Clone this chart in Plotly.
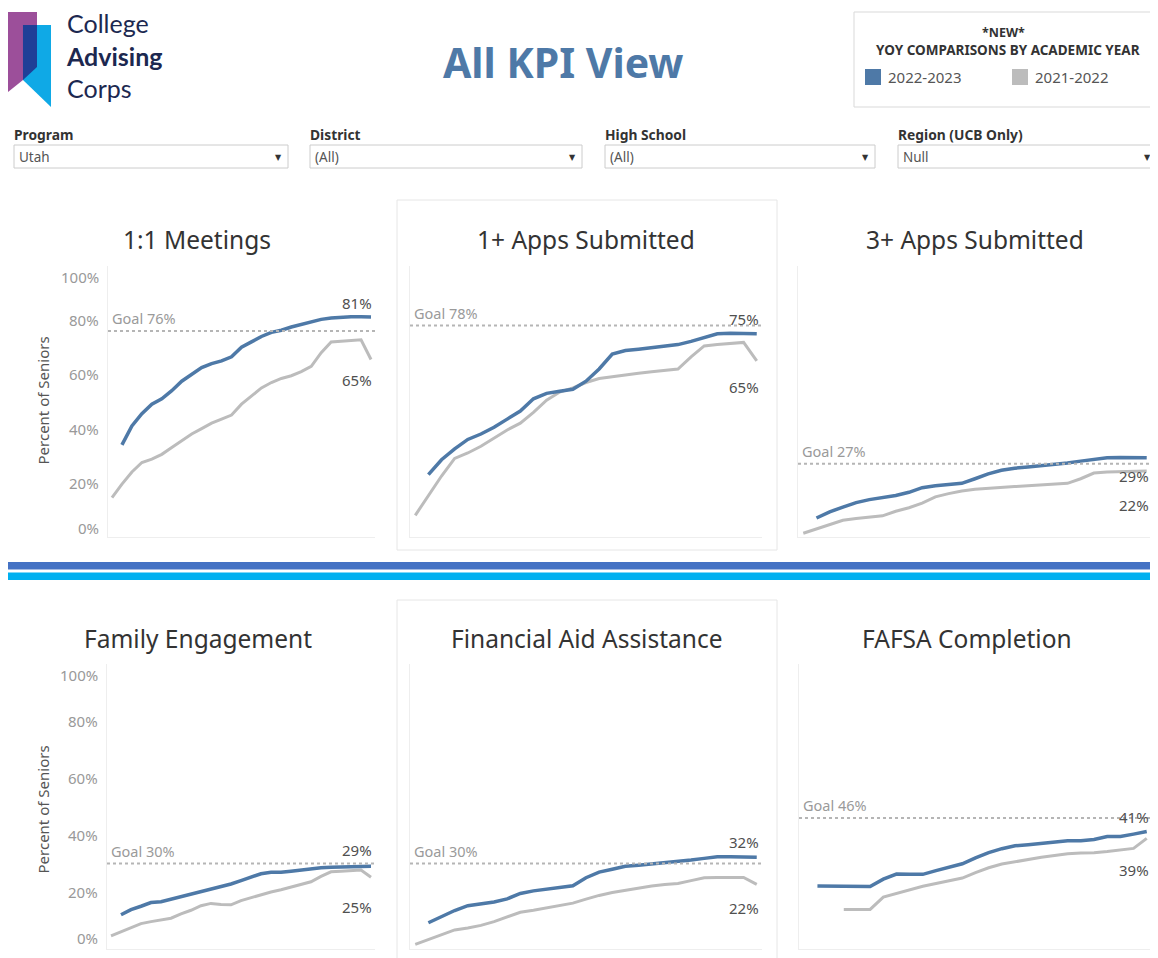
import plotly.graph_objects as go

# page is rendered with an 8px body margin; reference pixel coords are shifted by OFF
OFF = 8
W, H = 1158 - OFF, 958 - OFF

# ---------------- data ----------------
weeks = list(range(27))

titles = ["1:1 Meetings", "1+ Apps Submitted", "3+ Apps Submitted",
          "Family Engagement", "Financial Aid Assistance", "FAFSA Completion"]
goals = [76, 78, 27, 30, 30, 46]
end_label_2223 = ["81%", "75%", "29%", "29%", "32%", "41%"]
end_label_2122 = ["65%", "65%", "22%", "25%", "22%", "39%"]
y_ticks = [0, 20, 40, 60, 80, 100]
y_tick_text = ["0%", "20%", "40%", "60%", "80%", "100%"]

meet_2223 = [None, 34, 41, 45.5, 49, 51, 54, 57.5, 60, 62.5, 64, 65, 66.5, 70, 72, 74,
             75.5, 76.3, 77.5, 78.5, 79.6, 80.3, 80.8, 81.2, 81.3, 81.3, 81.2]
meet_2122 = [14.5, 19.5, 24, 27.5, 28.7, 30.5, 33, 35.5, 38, 40, 42, 43.5, 45, 49, 52, 55,
             57, 58.5, 59.5, 61, 63, 68, 72, 72.3, 72.5, 72.8, 65.5]

app1_2223 = [None, 23, 28.5, 32.5, 36, 38, 40.5, 43.5, 46.5, 51, 53, 53.8, 54.5, 57.5, 62, 67.5,
             68.8, 69.3, 69.8, 70.3, 71, 72.2, 73.5, 75, 75.2, 75.2, 75]
app1_2122 = [8, 15.5, 22.5, 29, 31, 33.5, 36.5, 39.5, 42, 46, 50.5, 53.5, 55, 57, 58.5, 59.2,
             59.8, 60.4, 61, 61.5, 62, 66.5, 70.5, 71, 71.5, 71.8, 65]

app3_2223 = [None, 7, 9.3, 11, 12.7, 13.8, 14.6, 15.3, 16.5, 18.2, 18.9, 19.3, 19.8, 21.5, 23.3,
             24.6, 25.4, 25.8, 26.2, 26.7, 27.3, 28, 28.6, 29.2, 29.3, 29.3, 29.2]
app3_2122 = [1.4, 3, 4.8, 6.2, 6.8, 7.2, 7.8, 9.5, 10.8, 12.5, 14.8, 16, 17, 17.6, 18, 18.4,
             18.6, 18.9, 19.2, 19.5, 19.8, 21.5, 23.6, 24, 24.2, 24.3, 24.4]

fam_2223 = [None, 12, 13.8, 15, 16.3, 16.6, 17.5, 18.5, 19.3, 20, 21, 21.8, 22.8, 24, 25.3,
            26.4, 26.9, 26.9, 27.3, 27.8, 28.2, 28.5, 28.7, 28.8, 28.9, 29, 29]
fam_2122 = [4.6, 6, 7.6, 8.9, 9.6, 10.1, 10.8, 12.3, 13.6, 15.2, 16, 15.6, 15.5, 17, 18, 19.1,
            20, 20.8, 21.7, 22.6, 23.6, 25.5, 27.1, 27.3, 27.5, 27.7, 25.2]

aid_2223 = [None, 9.2, 11.5, 13.5, 15.2, 15.7, 16.5, 17.6, 19.5, 20.4, 21, 21.6, 22.2, 25, 27,
            28, 29, 29.4, 29.8, 30.2, 30.7, 31.2, 31.8, 32.4, 32.4, 32.3, 32.2]
aid_2122 = [1.6, 3.3, 5.1, 6.7, 7.4, 8.3, 9.6, 11.3, 12.9, 13.6, 14.4, 15.2, 16.1, 17.5, 18.8,
            19.8, 20.6, 21.4, 22.1, 22.6, 23, 24, 25, 25.1, 25.2, 25.1, 22.7]

fafsa_2223 = [None, 22.1, 22.1, 22, 22, 21.9, 24.5, 26.3, 26.2, 26.2, 27.5, 28.7, 29.9, 32, 33.8,
              35.2, 36.2, 36.6, 37, 37.6, 38, 38, 38.4, 39.5, 39.5, 40.3, 41.2]
fafsa_2122 = [None, None, None, 13.9, 13.9, 13.9, 18.2, 19.5, 20.8, 22, 23, 24, 24.9, 26.8, 28.5,
              29.8, 30.6, 31.5, 32.2, 32.8, 33.4, 33.7, 33.8, 34.2, 34.7, 35.3, 38.8]

series_2223 = [meet_2223, app1_2223, app3_2223, fam_2223, aid_2223, fafsa_2223]
series_2122 = [meet_2122, app1_2122, app3_2122, fam_2122, aid_2122, fafsa_2122]

filter_labels = ["Program", "District", "High School", "Region (UCB Only)"]
filter_values = ["Utah", "(All)", "(All)", "Null"]
legend_years = ["2022-2023", "2021-2022"]
logo_lines = ["College", "<b>Advising</b>", "Corps"]

# ---------------- styles / layout ----------------
BLUE = "#4e79a7"
GRAY = "#bcbcbc"
FONT = "Noto Sans"

plot_boxes = [(108, 375, 266, 537), (410, 762, 266, 537), (798, 1152, 266, 537),
              (107, 375, 664, 949), (410, 762, 664, 949), (799, 1152, 664, 949)]
title_pos = [(197, 239), (586, 239), (975, 239), (198, 638), (586, 638), (967, 638)]
blue_shift = [14, 15, -18, 16, 15, 15]
gray_shift = [-20, -26, -34, -30, -24, -32]
show_y = [True, False, False, True, False, False]


def fx(px):
    return (px - OFF) / W


def fy(py):
    return 1 - (py - OFF) / H


fig = go.Figure()
layout = dict(width=W, height=H, margin=dict(l=0, r=0, t=0, b=0),
              paper_bgcolor="white", plot_bgcolor="white", showlegend=False,
              font=dict(family=FONT, color="#555555"))
annotations = []
shapes = []

for i in range(6):
    n = "" if i == 0 else str(i + 1)
    x0, x1, y0, y1 = plot_boxes[i]
    layout["xaxis" + n] = dict(domain=[fx(x0), fx(x1)], range=[-0.4, 26.4],
                               anchor="y" + n, showgrid=False, zeroline=False,
                               showticklabels=False, ticks="", showline=True,
                               linecolor="#eeeeee", linewidth=1, fixedrange=True)
    layout["yaxis" + n] = dict(domain=[fy(y1), fy(y0)], range=[0, 100],
                               anchor="x" + n, showgrid=False, zeroline=False,
                               showticklabels=False, ticks="", showline=True,
                               linecolor="#eeeeee", linewidth=1, fixedrange=True)
    xr, yr = "x" + n, "y" + n
    # goal line
    shapes.append(dict(type="line", xref=xr + " domain", yref=yr, x0=0, x1=1,
                       y0=goals[i], y1=goals[i],
                       line=dict(color="#b5b5b5", width=2, dash="dot")))
    annotations.append(dict(xref=xr + " domain", yref=yr, x=0, y=goals[i],
                            xanchor="left", yanchor="middle", xshift=2, yshift=13,
                            text=f"Goal {goals[i]}%", showarrow=False,
                            font=dict(size=14.5, color="#9a9a9a", family=FONT)))
    # series
    fig.add_trace(go.Scatter(x=weeks, y=series_2122[i], mode="lines", xaxis=xr, yaxis=yr,
                             line=dict(color=GRAY, width=3), hoverinfo="skip",
                             name=legend_years[1]))
    fig.add_trace(go.Scatter(x=weeks, y=series_2223[i], mode="lines", xaxis=xr, yaxis=yr,
                             line=dict(color=BLUE, width=3.5), hoverinfo="skip",
                             name=legend_years[0]))
    # end labels
    annotations.append(dict(xref=xr + " domain", yref=yr, x=1, y=series_2223[i][-1],
                            xanchor="right", yanchor="middle", xshift=-1,
                            yshift=blue_shift[i], text=end_label_2223[i], showarrow=False,
                            font=dict(size=15, color="#505050", family=FONT)))
    annotations.append(dict(xref=xr + " domain", yref=yr, x=1, y=series_2122[i][-1],
                            xanchor="right", yanchor="middle", xshift=-1,
                            yshift=gray_shift[i], text=end_label_2122[i], showarrow=False,
                            font=dict(size=15, color="#505050", family=FONT)))
    # title
    tx, ty = title_pos[i]
    annotations.append(dict(xref="paper", yref="paper", x=fx(tx), y=fy(ty),
                            xanchor="center", yanchor="middle", text=titles[i],
                            showarrow=False, font=dict(size=24.5, color="#333333", family=FONT)))
    # y tick labels
    if show_y[i]:
        for v, t in zip(y_ticks, y_tick_text):
            shift = 0
            if v == 0:
                shift = 9 if i == 0 else 11
            elif v == 100:
                shift = -11
            annotations.append(dict(xref=xr + " domain", yref=yr, x=0, y=v,
                                    xanchor="right", yanchor="middle", xshift=-7,
                                    yshift=shift, text=t, showarrow=False,
                                    font=dict(size=15, color="#999999", family=FONT)))
        annotations.append(dict(xref="paper", yref="paper", x=fx(42),
                                y=fy((y0 + y1) / 2 + (-1 if i == 0 else 3)),
                                xanchor="center", yanchor="middle",
                                text="Percent of Seniors", textangle=-90, showarrow=False,
                                font=dict(size=15, color="#555555", family=FONT)))

# middle panel frames
for (bx0, by0, bx1, by1) in [(397, 200, 777, 550), (397, 600, 777, 975)]:
    shapes.append(dict(type="rect", xref="paper", yref="paper", x0=fx(bx0), x1=fx(bx1),
                       y0=fy(by1), y1=fy(by0), line=dict(color="#e6e6e6", width=1),
                       layer="below"))

# separator bars
shapes.append(dict(type="rect", xref="paper", yref="paper", x0=fx(8), x1=1,
                   y0=fy(569.5), y1=fy(562), line=dict(width=0), fillcolor="#4472c4"))
shapes.append(dict(type="rect", xref="paper", yref="paper", x0=fx(8), x1=1,
                   y0=fy(580), y1=fy(572.5), line=dict(width=0), fillcolor="#00b0f0"))


def path(points):
    return "M " + " L ".join(f"{fx(a):.5f},{fy(b):.5f}" for a, b in points) + " Z"


# logo
shapes.append(dict(type="path", xref="paper", yref="paper",
                   path=path([(8, 12), (37, 12), (37, 68), (23, 80), (8, 92)]),
                   fillcolor="#9c4f9a", line=dict(width=0)))
shapes.append(dict(type="path", xref="paper", yref="paper",
                   path=path([(23, 25), (51, 25), (51, 107), (23, 80)]),
                   fillcolor="#0fa9e6", line=dict(width=0)))
shapes.append(dict(type="path", xref="paper", yref="paper",
                   path=path([(23, 25), (37, 25), (37, 67), (23, 80)]),
                   fillcolor="#1f3f97", line=dict(width=0)))
annotations.append(dict(xref="paper", yref="paper", x=fx(64), y=fy(56),
                        xanchor="left", yanchor="middle", align="left",
                        text="<br>".join(logo_lines), showarrow=False,
                        font=dict(size=25, color="#1c2850", family="Lato")))

# main title
annotations.append(dict(xref="paper", yref="paper", x=fx(563), y=fy(62), xanchor="center",
                        yanchor="middle", text="<b>All KPI View</b>", showarrow=False,
                        font=dict(size=41, color=BLUE, family=FONT)))

# legend box
shapes.append(dict(type="rect", xref="paper", yref="paper", x0=fx(854), x1=fx(1160),
                   y0=fy(107), y1=fy(12), line=dict(color="#d9d9d9", width=1)))
annotations.append(dict(xref="paper", yref="paper", x=fx(1003), y=fy(32), xanchor="center",
                        yanchor="middle", text="<b>*NEW*</b>", showarrow=False,
                        font=dict(size=12.5, color="#333333", family=FONT)))
annotations.append(dict(xref="paper", yref="paper", x=fx(1008), y=fy(50), xanchor="center",
                        yanchor="middle", text="<b>YOY COMPARISONS BY ACADEMIC YEAR</b>",
                        showarrow=False, font=dict(size=13.5, color="#333333", family=FONT)))
for lx, col, yr_txt in [(865, BLUE, legend_years[0]), (1012, GRAY, legend_years[1])]:
    shapes.append(dict(type="rect", xref="paper", yref="paper", x0=fx(lx), x1=fx(lx + 16),
                       y0=fy(85), y1=fy(69), fillcolor=col, line=dict(width=0)))
    annotations.append(dict(xref="paper", yref="paper", x=fx(lx + 21), y=fy(77),
                            xanchor="left", yanchor="middle", text=yr_txt, showarrow=False,
                            font=dict(size=15, color="#555555", family=FONT)))

# filters
filter_x = [(14, 288), (310, 582), (605, 875), (898, 1157)]
for (a, b), lab, val in zip(filter_x, filter_labels, filter_values):
    annotations.append(dict(xref="paper", yref="paper", x=fx(a - 2), y=fy(134), xanchor="left",
                            yanchor="middle", text=f"<b>{lab}</b>", showarrow=False,
                            font=dict(size=13.8, color="#333333", family=FONT)))
    shapes.append(dict(type="rect", xref="paper", yref="paper", x0=fx(a), x1=fx(b),
                       y0=fy(168), y1=fy(145), line=dict(color="#cccccc", width=1),
                       fillcolor="white"))
    annotations.append(dict(xref="paper", yref="paper", x=fx(a + 3), y=fy(157), xanchor="left",
                            yanchor="middle", text=val, showarrow=False,
                            font=dict(size=13.5, color="#555555", family=FONT)))
    annotations.append(dict(xref="paper", yref="paper", x=fx(b - 10), y=fy(157),
                            xanchor="center", yanchor="middle", text="▼", showarrow=False,
                            font=dict(size=8, color="#333333", family="DejaVu Sans")))

layout["annotations"] = annotations
layout["shapes"] = shapes
fig.update_layout(**layout)
fig.write_html("out.html", config={"displayModeBar": False})
